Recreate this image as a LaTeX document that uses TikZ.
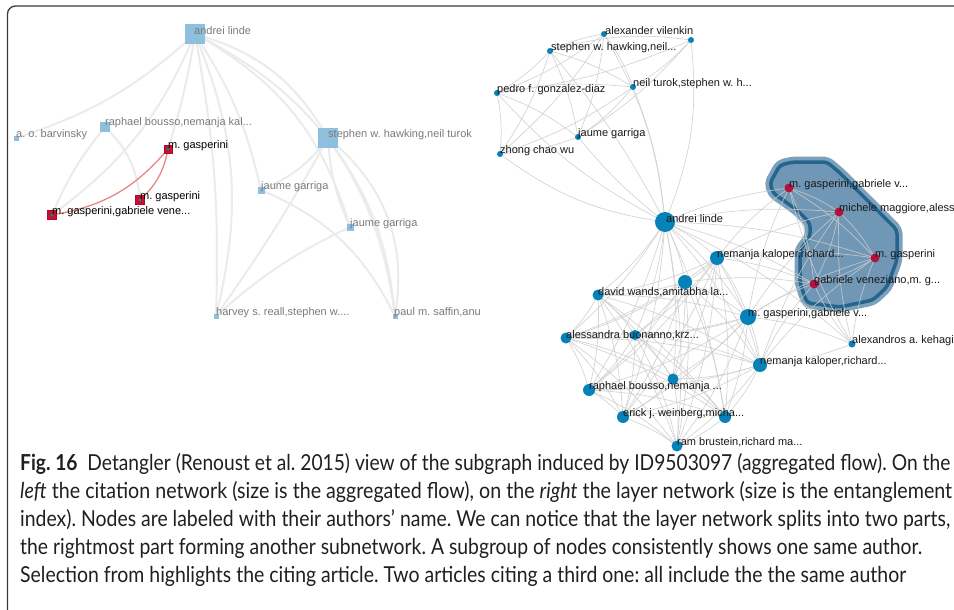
\documentclass[tikz,border=0pt]{standalone}
\usepackage{fontspec}
\setmainfont{Liberation Sans}
\newfontfamily\capfont{Lato}
\usepackage{graphicx}
\definecolor{framec}{HTML}{3A3A3A}
\definecolor{lblue}{HTML}{8EC0DE}
\definecolor{lgraytxt}{HTML}{7A7A7A}
\definecolor{ledgec}{HTML}{EBEBEB}
\definecolor{redsq}{HTML}{C8102E}
\definecolor{redge}{HTML}{E98585}
\definecolor{rblue}{HTML}{0682B9}
\definecolor{rred}{HTML}{B3123E}
\definecolor{redgec}{HTML}{CDCDCD}
\definecolor{hullfill}{HTML}{7097B5}
\definecolor{hullhalo}{HTML}{7DA0BC}
\definecolor{hullline}{HTML}{24658C}
\pgfdeclarelayer{bg}
\pgfsetlayers{bg,main}
\tikzset{
  lsq/.style={shape=rectangle, fill=lblue, draw=none, inner sep=0pt, minimum size=#1},
  rsq/.style={shape=rectangle, fill=redsq, draw=redsq!85!black, line width=0.8pt, inner sep=0pt, minimum size=#1},
  llab/.style={anchor=west, inner sep=0pt, text=lgraytxt, font=\fontsize{11}{13}\selectfont},
  lblab/.style={anchor=west, inner sep=0pt, text=black, font=\fontsize{11}{13}\selectfont},
  ledge/.style={draw=ledgec, line width=2pt},
  redgest/.style={draw=redge, line width=1.3pt},
  bdot/.style={shape=circle, fill=rblue, draw=none, inner sep=0pt, minimum size=#1},
  rdot/.style={shape=circle, fill=rred, draw=none, inner sep=0pt, minimum size=#1},
  rlab/.style={anchor=west, inner sep=0pt, text=black!90, font=\fontsize{11}{13}\selectfont},
  redg/.style={draw=redgec, line width=0.7pt, opacity=0.85},
  capline/.style={anchor=base west, inner sep=0pt, font=\capfont\fontsize{22}{26}\selectfont, text=black!88},
}
\begin{document}
\frenchspacing
\begin{tikzpicture}[x=1pt,y=-1pt]
\useasboundingbox (0,0) rectangle (954,610);
\begin{scope}
\clip (0,0) rectangle (954,610);
\draw[framec, line width=1.3pt, rounded corners=8pt] (7.5,6) rectangle (980,625);
\end{scope}

% ---------------- left panel nodes ----------------
\node[lsq=20pt] (Lal) at (195,34) {};
\node[lsq=5pt] (Lbar) at (16,138) {};
\node[lsq=10pt] (Lrb) at (105,127) {};
\node[lsq=20pt] (Lsh) at (328,138) {};
\node[lsq=7pt] (Ljg1) at (261,190) {};
\node[lsq=7pt] (Ljg2) at (350,227) {};
\node[lsq=5pt] (Lhr) at (216,316) {};
\node[lsq=5pt] (Lps) at (395,316) {};
\node[rsq=8pt] (Lmg1) at (168,149) {};
\node[rsq=9pt] (Lmg2) at (140,200) {};
\node[rsq=9pt] (Lgg) at (52,215) {};

% left edges (behind nodes)
\begin{pgfonlayer}{bg}
\draw[ledge] (Lal.center) to[bend left=12] (Lbar.center);
\draw[ledge] (Lal.center) to[bend left=15] (Lgg.center);
\draw[ledge] (Lal.center) to[bend left=4] (Lmg1.center);
\draw[ledge] (Lal.center) to[bend left=18] (Lhr.center);
\draw[ledge] (Lal.center) to[bend left=6] (Lhr.center);
\draw[ledge] (Lal.center) to[bend left=22] (Lsh.center);
\draw[ledge] (Lal.center) to[bend left=22] (Ljg2.center);
\draw[ledge] (Lal.center) to[bend left=28] (Lps.center);
\draw[ledge] (Lal.center) to[bend left=10] (Ljg1.center);
\draw[ledge] (Lrb.center) to[bend right=8] (Lgg.center);
\draw[ledge] (Lrb.center) to[bend left=20] (Lmg2.center);
\draw[ledge] (Lsh.center) to[bend left=15] (Ljg1.center);
\draw[ledge] (Lsh.center) to[bend left=3] (Lhr.center);
\draw[ledge] (Lsh.center) to[bend right=10] (Ljg2.center);
\draw[ledge] (Lsh.center) to[bend left=15] (Lps.center);
\draw[ledge] (Lsh.center) to[bend left=30] (Lps.center);
\draw[ledge] (Ljg1.center) to[bend left=20] (Lps.center);
\draw[ledge] (Ljg2.center) to[bend right=8] (Lhr.center);
\draw[redgest] (Lmg1.center) to[bend left=20] (Lgg.center);
\draw[redgest] (Lmg1.center) to[bend left=18] (Lmg2.center);
\end{pgfonlayer}

\fill[rblue] (Lmg1.center) circle (1.6pt);
\fill[rblue] (Lmg2.center) circle (1.6pt);
\fill[rblue] (Lgg.center) circle (1.6pt);

% left labels
\node[llab] (tLal) at (194,31) {andrei linde};
\node[llab] (tLbar) at (16,135) {a. o. barvinsky};
\node[llab] (tLrb) at (105,123) {raphael bousso,nemanja kal...};
\node[llab] (tLsh) at (328,135) {stephen w. hawking,neil turok};
\node[llab] (tLjg1) at (261,187) {jaume garriga};
\node[llab] (tLjg2) at (350,224) {jaume garriga};
\node[llab] (tLhr) at (216,313) {harvey s. reall,stephen w....};
\begin{scope}
\clip (380,300) rectangle (480,330);
\node[llab] (tLps) at (394,313) {paul m. saffin,anu};
\end{scope}
\node[lblab] (tLmg1) at (168,146) {m. gasperini};
\node[lblab] (tLmg2) at (140,197) {m. gasperini};
\node[lblab] (tLgg) at (52,212) {m. gasperini,gabriele vene...};

% ---------------- right panel ----------------
% hull
\path[fill=hullhalo, draw=hullhalo, line width=11pt, line join=round, rounded corners=4pt]
 (770,183) -- (780,165) -- (793,162) -- (827,162) -- (840,173) -- (897,230) -- (897,260) -- (887,287) -- (873,300) -- (840,307) -- (807,303) -- (800,283) -- (800,250) -- (810,237) -- (810,223) -- (797,210) -- (773,193) -- cycle;
\path[fill=hullfill, rounded corners=4pt]
 (770,183) -- (780,165) -- (793,162) -- (827,162) -- (840,173) -- (897,230) -- (897,260) -- (887,287) -- (873,300) -- (840,307) -- (807,303) -- (800,283) -- (800,250) -- (810,237) -- (810,223) -- (797,210) -- (773,193) -- cycle;
\draw[hullline, line width=3.5pt, line join=round, rounded corners=4pt]
 (770,183) -- (780,165) -- (793,162) -- (827,162) -- (840,173) -- (897,230) -- (897,260) -- (887,287) -- (873,300) -- (840,307) -- (807,303) -- (800,283) -- (800,250) -- (810,237) -- (810,223) -- (797,210) -- (773,193) -- cycle;

% coordinates
\coordinate (AV) at (604,34);
\coordinate (U1) at (691,40);
\coordinate (SH) at (550,51);
\coordinate (PG) at (497,93);
\coordinate (NT) at (633,87);
\coordinate (JG) at (578,137);
\coordinate (ZW) at (500,154);
\coordinate (AL) at (665,222);
\coordinate (NKa) at (717,258);
\coordinate (U2) at (685,282);
\coordinate (DW) at (598,295);
\coordinate (MG) at (748,317);
\coordinate (AB) at (566,338);
\coordinate (U3) at (635,335);
\coordinate (AK) at (852,344);
\coordinate (NKb) at (760,365);
\coordinate (U4) at (673,379);
\coordinate (RB) at (589,390);
\coordinate (EW) at (623,417);
\coordinate (U5) at (725,417);
\coordinate (RM) at (677,446);
\coordinate (Ha) at (789,188);
\coordinate (Hb) at (839,212);
\coordinate (Hc) at (875,258);
\coordinate (Hd) at (814,284);

% top cluster edges
\foreach \a/\b in {SH/AV,SH/PG,SH/NT,SH/JG,SH/ZW,AV/PG,AV/NT,AV/JG,AV/ZW,U1/NT,U1/JG,U1/PG,PG/NT,PG/JG,PG/ZW,NT/JG,NT/ZW,JG/ZW}
  \draw[redg] (\a) to[bend left=8] (\b);
\draw[redg] (SH) to[bend left=12] (U1);
\draw[redg] (AL) to[bend right=12] (AV);
\draw[redg] (AL) to[bend right=14] (U1);
\draw[redg] (AL) to[bend right=6] (SH);
\draw[redg] (AL) to[bend right=8] (NT);
\draw[redg] (AL) to[bend left=6] (JG);
\draw[redg] (AL) to[bend left=14] (ZW);
\draw[redg] (AL) to[bend left=10] (PG);

% bottom cluster edges
\foreach \b in {NKa,U2,DW,MG,AB,U3,NKb,U4,RB,EW,U5,RM,Ha,Hb,Hc,Hd,AK}
  \draw[redg] (AL) to[bend left=8] (\b);
\foreach \b in {U2,DW,MG,AB,U3,NKb,U4,RB,EW,U5,RM,Ha,Hb,Hc,Hd}
  \draw[redg] (NKa) to[bend left=8] (\b);
\foreach \b in {DW,MG,AB,U3,NKb,U4,RB,EW,U5,RM,Hd}
  \draw[redg] (U2) to[bend left=8] (\b);
\foreach \b in {MG,AB,U3,NKb,U4,RB,EW,U5,RM}
  \draw[redg] (DW) to[bend left=8] (\b);
\foreach \b in {AB,U3,NKb,U4,RB,EW,U5,RM,Ha,Hb,Hc,Hd,AK}
  \draw[redg] (MG) to[bend left=8] (\b);
\foreach \b in {U3,NKb,U4,RB,EW,U5,RM}
  \draw[redg] (AB) to[bend left=8] (\b);
\foreach \b in {NKb,U4,RB,EW,U5,RM}
  \draw[redg] (U3) to[bend left=8] (\b);
\foreach \b in {Ha,Hb,Hc,Hd,NKb}
  \draw[redg] (AK) to[bend left=8] (\b);
\foreach \b in {U4,RB,EW,U5,RM,Hb,Hc,Hd}
  \draw[redg] (NKb) to[bend left=8] (\b);
\foreach \b in {RB,EW,U5,RM}
  \draw[redg] (U4) to[bend left=8] (\b);
\foreach \b in {EW,U5,RM}
  \draw[redg] (RB) to[bend left=8] (\b);
\foreach \b in {U5,RM}
  \draw[redg] (EW) to[bend left=8] (\b);
\draw[redg] (U5) to[bend left=8] (RM);
\foreach \a/\b in {Ha/Hb,Ha/Hc,Ha/Hd,Hb/Hc,Hb/Hd,Hc/Hd}
  \draw[redg] (\a) to[bend left=8] (\b);

% right nodes
\node[bdot=6pt] (nAV) at (AV) {};
\node[bdot=6pt] (nU1) at (U1) {};
\node[bdot=6pt] (nSH) at (SH) {};
\node[bdot=6pt] (nPG) at (PG) {};
\node[bdot=6pt] (nNT) at (NT) {};
\node[bdot=6pt] (nJG) at (JG) {};
\node[bdot=6pt] (nZW) at (ZW) {};
\node[bdot=20pt] (nAL) at (AL) {};
\node[bdot=14pt] (nNKa) at (NKa) {};
\node[bdot=14pt] (nU2) at (U2) {};
\node[bdot=11pt] (nDW) at (DW) {};
\node[bdot=16pt] (nMG) at (MG) {};
\node[bdot=11pt] (nAB) at (AB) {};
\node[bdot=10pt] (nU3) at (U3) {};
\node[bdot=7pt] (nAK) at (AK) {};
\node[bdot=14pt] (nNKb) at (NKb) {};
\node[bdot=11pt] (nU4) at (U4) {};
\node[bdot=12pt] (nRB) at (RB) {};
\node[bdot=12pt] (nEW) at (EW) {};
\node[bdot=12pt] (nU5) at (U5) {};
\node[bdot=11pt] (nRM) at (RM) {};
\node[rdot=9pt] (nHa) at (Ha) {};
\node[rdot=9pt] (nHb) at (Hb) {};
\node[rdot=9pt] (nHc) at (Hc) {};
\node[rdot=9pt] (nHd) at (Hd) {};

% right labels
\node[rlab] (tAV) at (605,31) {alexander vilenkin};
\node[rlab] (tSH) at (551,48) {stephen w. hawking,neil...};
\node[rlab] (tPG) at (497,90) {pedro f. gonzalez-diaz};
\node[rlab] (tNT) at (633,84) {neil turok,stephen w. h...};
\node[rlab] (tJG) at (578,134) {jaume garriga};
\node[rlab] (tZW) at (500,151) {zhong chao wu};
\node[rlab] (tAL) at (666,219) {andrei linde};
\node[rlab] (tHa) at (789,185) {m. gasperini,gabriele v...};
\node[rlab] (tHb) at (839,209) {michele maggiore,aless};
\node[rlab] (tNKa) at (717,255) {nemanja kaloper,richard...};
\node[rlab] (tHc) at (875,255) {m. gasperini};
\node[rlab] (tHd) at (814,281) {gabriele veneziano,m. g...};
\node[rlab] (tDW) at (598,292) {david wands,amitabha la...};
\node[rlab] (tMG) at (748,314) {m. gasperini,gabriele v...};
\node[rlab] (tAB) at (566,335) {alessandra buonanno,krz...};
\node[rlab] (tAK) at (852,341) {alexandros a. kehagi};
\node[rlab] (tNKb) at (760,362) {nemanja kaloper,richard...};
\node[rlab] (tRB) at (589,387) {raphael bousso,nemanja ...};
\node[rlab] (tEW) at (623,414) {erick j. weinberg,micha...};
\node[rlab] (tRM) at (677,442) {ram brustein,richard ma...};

% ---------------- caption ----------------
\node[capline] (c1) at (20,470) {\resizebox{930pt}{\height}{\textbf{Fig. 16}\ \ Detangler (Renoust et al. 2015) view of the subgraph induced by ID9503097 (aggregated flow). On the}};
\node[capline] (c2) at (20,498) {\resizebox{932pt}{\height}{\textit{left} the citation network (size is the aggregated flow), on the \textit{right} the layer network (size is the entanglement}};
\node[capline] (c3) at (20,526) {\resizebox{930pt}{\height}{index). Nodes are labeled with their authors’ name. We can notice that the layer network splits into two parts,}};
\node[capline] (c4) at (20,554) {\resizebox{902pt}{\height}{the rightmost part forming another subnetwork. A subgroup of nodes consistently shows one same author.}};
\node[capline] (c5) at (20,582) {\resizebox{886pt}{\height}{Selection from highlights the citing article. Two articles citing a third one: all include the the same author}};
\end{tikzpicture}
\end{document}
